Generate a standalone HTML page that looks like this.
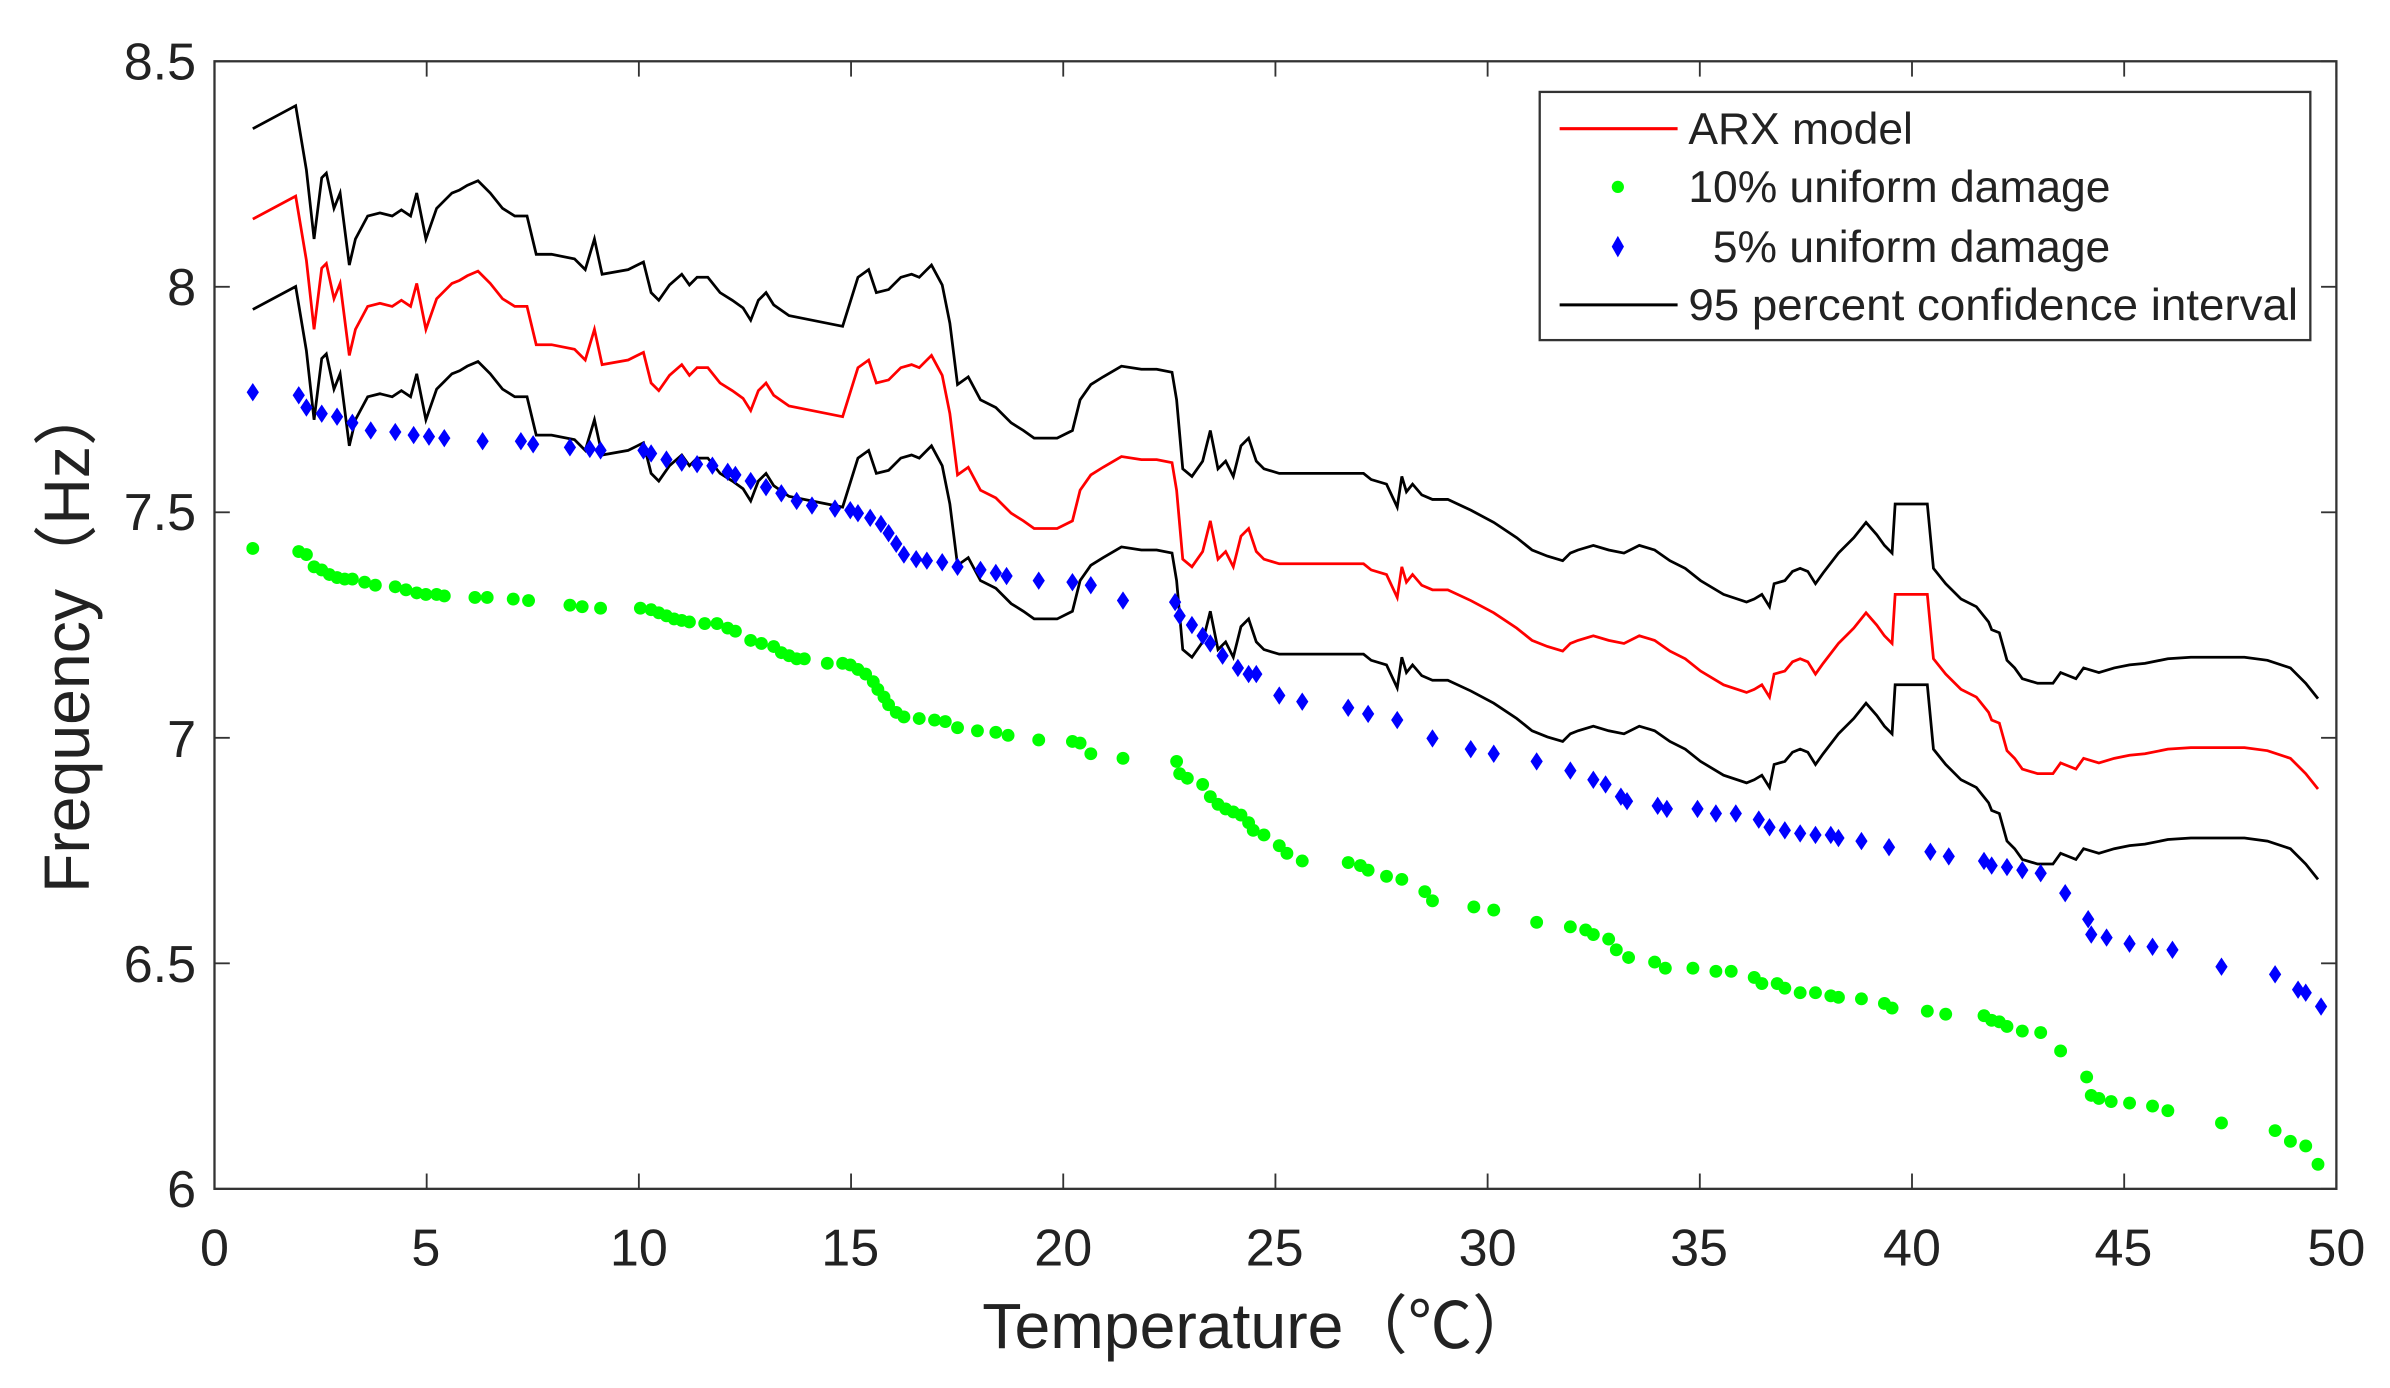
<!DOCTYPE html>
<html><head><meta charset="utf-8"><style>
html,body{margin:0;padding:0;background:#fff;}
svg{display:block;}
text{font-family:"Liberation Sans","Noto Sans CJK SC",sans-serif;fill:#222;}
</style></head><body>
<svg id="s" width="2390" height="1388" viewBox="0 0 1560 906" preserveAspectRatio="none" xmlns="http://www.w3.org/2000/svg">
<rect x="140" y="40" width="1385" height="736" fill="#fff" stroke="#333" stroke-width="1.5"/>
<g id="ticks" stroke="#333" stroke-width="1.2"></g>
<g font-size="34" text-anchor="end">
<text x="128" y="52">8.5</text><text x="128" y="199">8</text><text x="128" y="346">7.5</text>
<text x="128" y="494">7</text><text x="128" y="641">6.5</text><text x="128" y="788">6</text>
</g>
<g font-size="34" text-anchor="middle">
<text x="140" y="826">0</text><text x="278" y="826">5</text><text x="417" y="826">10</text><text x="555" y="826">15</text>
<text x="694" y="826">20</text><text x="832" y="826">25</text><text x="971" y="826">30</text><text x="1109" y="826">35</text>
<text x="1248" y="826">40</text><text x="1386" y="826">45</text><text x="1525" y="826">50</text>
</g>
<text x="822" y="880" font-size="42" text-anchor="middle">Temperature（℃）</text>
<text transform="translate(58,416) rotate(-90)" font-size="42" text-anchor="middle">Frequency（Hz）</text>
<g id="lines" fill="none" stroke-width="1.8"></g>
<g id="pts"></g>
<rect x="1005" y="60" width="503" height="162" fill="#fff" stroke="#333" stroke-width="1.5"/>
<line x1="1018" y1="84" x2="1095" y2="84" stroke="#f00" stroke-width="2"/>
<circle cx="1056" cy="122" r="4" fill="#0f0"/>
<path d="M1056 154 L1060 161 L1056 168 L1052 161Z" fill="#00f"/>
<line x1="1018" y1="199" x2="1095" y2="199" stroke="#000" stroke-width="2"/>
<g font-size="29"><text x="1102" y="94">ARX model</text><text x="1102" y="132">10% uniform damage</text>
<text x="1118" y="171">5% uniform damage</text><text x="1102" y="209" textLength="398" lengthAdjust="spacingAndGlyphs">95 percent confidence interval</text></g>
</svg>
<script>
const NS="http://www.w3.org/2000/svg";
function el(p,n,a){const e=document.createElementNS(NS,n);for(const k in a)e.setAttribute(k,a[k]);p.appendChild(e);return e;}
const tk=document.getElementById('ticks');
for(let i=0;i<=10;i++){const x=140+138.5*i;el(tk,'line',{x1:x,y1:776,x2:x,y2:766});el(tk,'line',{x1:x,y1:40,x2:x,y2:50});}
for(let i=0;i<=5;i++){const y=776-147.2*i;el(tk,'line',{x1:140,y1:y,x2:150,y2:y});el(tk,'line',{x1:1525,y1:y,x2:1515,y2:y});}
const red=[[165,143],[193,128],[200,170],[205,215],[210,175],[213,172],[218,195],[222,185],[228,232],[232,215],[240,200],[248,198],[256,200],[262,196],[268,200],[272,185],[278,215],[285,195],[290,190],[295,185],[300,183],[305,180],[312,177],[320,185],[328,195],[336,200],[344,200],[350,225],[360,225],[375,228],[382,235],[388,215],[393,238],[410,235],[420,230],[425,250],[430,255],[437,245],[445,238],[450,245],[455,240],[462,240],[470,250],[478,255],[485,260],[490,268],[495,255],[500,250],[505,258],[515,265],[530,268],[550,272],[560,240],[567,235],[572,250],[580,248],[588,240],[595,238],[600,240],[608,232],[615,245],[620,270],[625,310],[632,305],[640,320],[650,325],[660,335],[668,340],[675,345],[690,345],[700,340],[705,320],[712,310],[720,305],[732,298],[745,300],[755,300],[765,302],[768,320],[772,365],[778,370],[785,360],[790,340],[795,365],[800,360],[805,370],[810,350],[815,345],[820,360],[825,365],[835,368],[850,368],[870,368],[890,368],[895,372],[905,375],[912,390],[915,370],[918,380],[922,375],[928,382],[935,385],[945,385],[960,392],[975,400],[990,410],[1000,418],[1010,422],[1020,425],[1025,420],[1030,418],[1040,415],[1050,418],[1060,420],[1070,415],[1080,418],[1090,425],[1100,430],[1110,438],[1125,447],[1140,452],[1145,450],[1150,447],[1155,455],[1158,440],[1165,438],[1170,432],[1175,430],[1180,432],[1185,440],[1190,433],[1200,420],[1210,410],[1218,400],[1225,408],[1230,415],[1235,420],[1237,388],[1258,388],[1262,430],[1270,440],[1280,450],[1290,455],[1298,465],[1300,470],[1305,472],[1310,490],[1315,495],[1320,502],[1330,505],[1340,505],[1345,498],[1350,500],[1355,502],[1360,495],[1370,498],[1380,495],[1390,493],[1400,492],[1415,489],[1430,488],[1450,488],[1465,488],[1480,490],[1495,495],[1505,505],[1513,515]];
const L=document.getElementById('lines');
const pts=d=>red.map(p=>p[0]+','+(p[1]+d)).join(' ');
el(L,'polyline',{points:pts(-59),stroke:'#000'});
el(L,'polyline',{points:pts(0),stroke:'#f00'});
el(L,'polyline',{points:pts(59),stroke:'#000'});
const green=[[165,358],[195,360],[200,362],[205,370],[210,372],[215,375],[220,377],[225,378],[230,378],[238,380],[245,382],[258,383],[265,385],[272,387],[278,388],[285,388],[290,389],[310,390],[318,390],[335,391],[345,392],[372,395],[380,396],[392,397],[418,397],[425,398],[430,400],[435,402],[440,404],[445,405],[450,406],[460,407],[468,407],[475,410],[480,412],[490,418],[497,420],[505,422],[510,426],[515,428],[520,430],[525,430],[540,433],[550,433],[555,434],[560,437],[565,440],[570,445],[573,450],[577,455],[580,460],[585,465],[590,468],[600,469],[610,470],[617,471],[625,475],[638,477],[650,478],[658,480],[678,483],[700,484],[705,485],[712,492],[733,495],[768,497],[770,505],[775,508],[785,512],[790,520],[795,525],[800,528],[805,530],[810,532],[815,537],[818,542],[825,545],[835,552],[840,557],[850,562],[880,563],[888,565],[893,568],[905,572],[915,574],[930,582],[935,588],[962,592],[975,594],[1003,602],[1025,605],[1035,607],[1040,610],[1050,613],[1055,620],[1063,625],[1080,628],[1087,632],[1105,632],[1120,634],[1130,634],[1145,638],[1150,642],[1160,642],[1165,645],[1175,648],[1185,648],[1195,650],[1200,651],[1215,652],[1230,655],[1235,658],[1258,660],[1270,662],[1295,663],[1300,666],[1305,667],[1310,670],[1320,673],[1332,674],[1345,686],[1362,703],[1365,715],[1370,717],[1378,719],[1390,720],[1405,722],[1415,725],[1450,733],[1485,738],[1495,745],[1505,748],[1513,760]];
const blue=[[165,256],[195,258],[200,266],[210,270],[220,272],[230,276],[242,281],[258,282],[270,284],[280,285],[290,286],[315,288],[340,288],[348,290],[372,292],[385,293],[392,294],[420,294],[425,296],[435,300],[445,302],[455,303],[465,304],[475,308],[480,310],[490,314],[500,318],[510,322],[520,327],[530,330],[545,332],[555,333],[560,335],[568,338],[575,342],[580,348],[585,355],[590,362],[598,365],[605,366],[615,367],[625,370],[640,372],[650,374],[657,376],[678,379],[700,380],[712,382],[733,392],[767,393],[770,402],[778,408],[785,415],[790,420],[798,428],[808,436],[815,440],[820,440],[835,454],[850,458],[880,462],[893,466],[912,470],[935,482],[960,489],[975,492],[1003,497],[1025,503],[1040,509],[1048,512],[1058,520],[1062,523],[1082,526],[1088,528],[1108,528],[1120,531],[1133,531],[1148,535],[1155,540],[1165,542],[1175,544],[1185,545],[1195,545],[1200,547],[1215,549],[1233,553],[1260,556],[1272,559],[1295,562],[1300,565],[1310,566],[1320,568],[1332,570],[1348,583],[1363,600],[1365,610],[1375,612],[1390,616],[1405,618],[1418,620],[1450,631],[1485,636],[1500,646],[1505,648],[1515,657]];
const P=document.getElementById('pts');
green.forEach(p=>el(P,'circle',{cx:p[0],cy:p[1],r:4.2,fill:'#0f0'}));
blue.forEach(p=>el(P,'path',{d:`M${p[0]} ${p[1]-6}L${p[0]+4} ${p[1]}L${p[0]} ${p[1]+6}L${p[0]-4} ${p[1]}Z`,fill:'#00f'}));
</script>
</body></html>
